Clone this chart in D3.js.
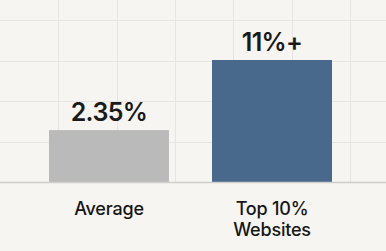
<!DOCTYPE html>
<html><head><meta charset="utf-8">
<script src="https://cdn.jsdelivr.net/npm/d3@7"></script>
<style>html,body{margin:0;padding:0;background:#f6f5f2;}svg{display:block;}</style>
</head><body>
<script>
const categories = ["Average", "Top 10%\nWebsites"];
const values = [2.35, 11];
const valueLabels = ["2.35%", "11%+"];
const barColors = ["#bababa", "#48688c"];

const W = 386, H = 251, baseline = 182.5;
const svg = d3.select("body").append("svg").attr("width", W).attr("height", H);
svg.append("rect").attr("width", W).attr("height", H).attr("fill", "#f6f5f2");

// grid
const gx = d3.scaleLinear().domain([0, 1]).range([0, 58.33]);
const gy = d3.scaleLinear().domain([0, 1]).range([baseline, baseline - 40.6]);
svg.append("g").selectAll("line").data(d3.range(1, 7)).join("line")
  .attr("x1", d => Math.round(gx(d)) + 0.5).attr("x2", d => Math.round(gx(d)) + 0.5)
  .attr("y1", 0).attr("y2", baseline)
  .attr("stroke", "#e7e5e1").attr("stroke-width", 1);
svg.append("g").selectAll("line").data(d3.range(1, 5)).join("line")
  .attr("x1", 0).attr("x2", W)
  .attr("y1", d => Math.round(gy(d)) + 0.5).attr("y2", d => Math.round(gy(d)) + 0.5)
  .attr("stroke", "#e7e5e1").attr("stroke-width", 1);

const x = d3.scaleBand().domain(categories).range([49, 332]).paddingInner(0.264).paddingOuter(0);
const y = d3.scalePow().exponent(0.55).domain([0, 11]).range([baseline, 60]);

svg.append("g").selectAll("rect").data(values).join("rect")
  .attr("x", (d, i) => x(categories[i]))
  .attr("width", x.bandwidth())
  .attr("y", d => y(d))
  .attr("height", d => baseline - y(d))
  .attr("fill", (d, i) => barColors[i]);

svg.append("line").attr("x1", 0).attr("x2", W).attr("y1", baseline).attr("y2", baseline)
  .attr("stroke", "#cfcecb").attr("stroke-width", 1.5);

const cx = i => x(categories[i]) + x.bandwidth() / 2;

svg.append("g").selectAll("text").data(values).join("text")
  .attr("x", (d, i) => cx(i))
  .attr("y", d => y(d) - 9.5)
  .attr("text-anchor", "middle")
  .attr("font-family", "Inter, sans-serif")
  .attr("font-weight", 600)
  .attr("font-size", 25)
  .attr("letter-spacing", -0.6)
  .attr("fill", "#1a1a1a")
  .text((d, i) => valueLabels[i]);

const lab = svg.append("g").selectAll("text").data(categories).join("text")
  .attr("x", (d, i) => cx(i))
  .attr("y", 215)
  .attr("text-anchor", "middle")
  .attr("font-family", "Inter, sans-serif")
  .attr("font-weight", 500)
  .attr("font-size", 18)
  .attr("letter-spacing", -0.2)
  .attr("fill", "#161616");
lab.each(function(d) {
  const t = d3.select(this);
  d.split("\n").forEach((line, j) => {
    t.append("tspan").attr("x", t.attr("x")).attr("dy", j === 0 ? 0 : 21).text(line);
  });
});
</script>
</body></html>
